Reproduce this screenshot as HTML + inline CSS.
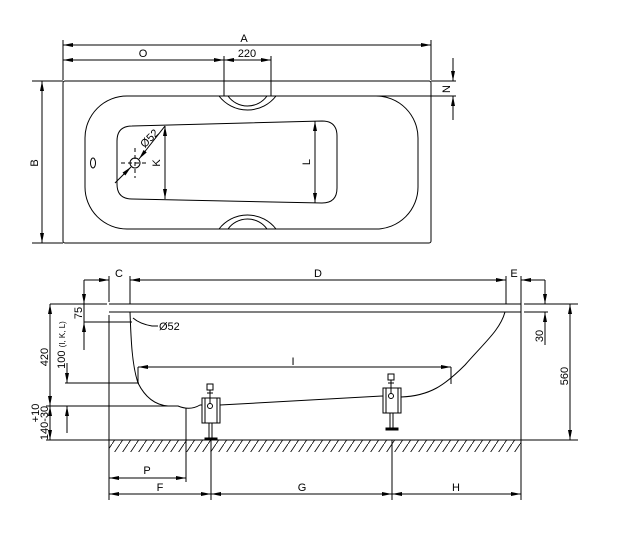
<!DOCTYPE html>
<html><head><meta charset="utf-8"><style>
html,body{margin:0;padding:0;background:#fff;width:617px;height:542px;overflow:hidden}
svg{display:block}
text{font-family:"Liberation Sans",sans-serif;font-size:11px;fill:#000}
</style></head><body>
<svg width="617" height="542" viewBox="0 0 617 542" xmlns="http://www.w3.org/2000/svg">
<defs>
<marker id="a" viewBox="0 0 10 4" refX="10" refY="2" markerWidth="10" markerHeight="4" orient="auto-start-reverse" markerUnits="userSpaceOnUse"><path d="M0,0L10,2L0,4z" fill="#000"/></marker>
<pattern id="h" width="8" height="12" patternUnits="userSpaceOnUse"><path d="M8,0L0,12" stroke="#000" stroke-width="0.8"/></pattern>
</defs>
<g stroke="#000" stroke-width="1" fill="none">
<line x1="63" y1="40" x2="63" y2="80"/>
<line x1="431" y1="40" x2="431" y2="80"/>
<line x1="63" y1="45" x2="431" y2="45" marker-start="url(#a)" marker-end="url(#a)"/>
<line x1="63" y1="60" x2="224" y2="60" marker-start="url(#a)" marker-end="url(#a)"/>
<line x1="224" y1="60" x2="271" y2="60" marker-start="url(#a)" marker-end="url(#a)"/>
<line x1="224" y1="56" x2="224" y2="96"/>
<line x1="271" y1="56" x2="271" y2="96"/>
<rect x="63" y="81" width="368" height="162" rx="2"/>
<line x1="32" y1="81" x2="63" y2="81"/>
<line x1="32" y1="243" x2="63" y2="243"/>
<line x1="42" y1="81" x2="42" y2="243" marker-start="url(#a)" marker-end="url(#a)"/>
<line x1="431" y1="81" x2="456" y2="81"/>
<line x1="271" y1="96" x2="456" y2="96"/>
<line x1="453" y1="58" x2="453" y2="81" marker-end="url(#a)"/>
<line x1="453" y1="120" x2="453" y2="96" marker-end="url(#a)"/>
<rect x="85" y="96" width="333" height="133" rx="42"/>
<path d="M219,96 A36,36 0 0 0 276,96"/>
<path d="M228,96 A24,24 0 0 0 267,96"/>
<path d="M219,229 A36,36 0 0 1 276,229"/>
<path d="M228,229 A24,24 0 0 1 267,229"/>
<path d="M132,126 L322,121 Q337,121 337,136 L337,188 Q337,203 322,203 L132,199 Q117,199 117,184 L117,141 Q117,126 132,126Z"/>
<ellipse cx="93" cy="163" rx="2.5" ry="5"/>
<circle cx="135" cy="163" r="5"/>
<line x1="121" y1="163" x2="149" y2="163" stroke-dasharray="4,3"/>
<line x1="135" y1="148" x2="135" y2="178" stroke-dasharray="4,3"/>
<line x1="115" y1="183" x2="131" y2="167" marker-end="url(#a)"/>
<line x1="165" y1="126" x2="139" y2="159" marker-end="url(#a)"/>
<line x1="165" y1="126" x2="165" y2="199" marker-start="url(#a)" marker-end="url(#a)"/>
<line x1="315" y1="121" x2="315" y2="203" marker-start="url(#a)" marker-end="url(#a)"/>
<line x1="109" y1="276" x2="109" y2="302"/>
<line x1="109" y1="315" x2="109" y2="500"/>
<line x1="521" y1="276" x2="521" y2="500"/>
<line x1="130" y1="276" x2="130" y2="304"/>
<line x1="506" y1="276" x2="506" y2="304"/>
<line x1="84" y1="280" x2="109" y2="280" marker-end="url(#a)"/>
<line x1="150" y1="280" x2="130" y2="280" marker-end="url(#a)"/>
<line x1="130" y1="280" x2="506" y2="280"/>
<line x1="486" y1="280" x2="506" y2="280" marker-end="url(#a)"/>
<line x1="545" y1="280" x2="521" y2="280" marker-end="url(#a)"/>
<path d="M109,304 H521 M109,312 H521"/>
<line x1="50" y1="304" x2="107" y2="304"/>
<line x1="524" y1="304" x2="578" y2="304"/>
<line x1="524" y1="312" x2="548" y2="312"/>
<line x1="545" y1="280" x2="545" y2="304" marker-end="url(#a)"/>
<line x1="545" y1="345" x2="545" y2="312" marker-end="url(#a)"/>
<line x1="570" y1="304" x2="570" y2="440" marker-start="url(#a)" marker-end="url(#a)"/>
<line x1="521" y1="440" x2="578" y2="440"/>
<line x1="84" y1="280" x2="84" y2="350"/>
<line x1="84" y1="282" x2="84" y2="304" marker-end="url(#a)"/>
<line x1="84" y1="340" x2="84" y2="322" marker-end="url(#a)"/>
<line x1="84" y1="322" x2="132" y2="322"/>
<line x1="50" y1="304" x2="50" y2="406" marker-start="url(#a)" marker-end="url(#a)"/>
<line x1="50" y1="406" x2="50" y2="440" marker-start="url(#a)" marker-end="url(#a)"/>
<line x1="46" y1="406" x2="170" y2="406"/>
<line x1="46" y1="440" x2="109" y2="440"/>
<line x1="65" y1="383" x2="139" y2="383"/>
<line x1="67" y1="363" x2="67" y2="383" marker-end="url(#a)"/>
<line x1="67" y1="433" x2="67" y2="406" marker-end="url(#a)"/>
<path d="M130,312 C131,340 132,365 138,383 C145,397 155,405 168,406 L178,406 Q190,411 200,405 L202,405"/>
<path d="M220,405 L383,396"/>
<path d="M401,397 C430,396 445,385 465,365 C485,342 500,330 505,312"/>
<path d="M133,318 Q140,324 152,326 L158,326"/>
<line x1="138" y1="367" x2="138" y2="383"/>
<line x1="451" y1="367" x2="451" y2="384"/>
<line x1="138" y1="367" x2="451" y2="367" marker-start="url(#a)" marker-end="url(#a)"/>
<rect x="109" y="440" width="412" height="12" fill="url(#h)" stroke="none"/>
<line x1="109" y1="440" x2="521" y2="440"/>
<g id="leg">
<rect x="202" y="398" width="18" height="25"/>
<line x1="205" y1="398" x2="205" y2="423"/>
<line x1="217" y1="398" x2="217" y2="423"/>
<rect x="207" y="384" width="6" height="6"/>
<line x1="210" y1="390" x2="210" y2="404"/>
<line x1="207" y1="393" x2="213" y2="393"/>
<circle cx="210" cy="406" r="2.5"/>
<line x1="209" y1="423" x2="209" y2="438"/>
<line x1="212" y1="423" x2="212" y2="438"/>
<rect x="205" y="438" width="12" height="2" fill="#000"/>
</g>
<use href="#leg" x="181" y="-10"/>
<line x1="211" y1="440" x2="211" y2="500"/>
<line x1="392" y1="440" x2="392" y2="500"/>
<line x1="186" y1="408" x2="186" y2="482"/>
<line x1="109" y1="478" x2="186" y2="478" marker-start="url(#a)" marker-end="url(#a)"/>
<line x1="109" y1="494" x2="211" y2="494" marker-start="url(#a)" marker-end="url(#a)"/>
<line x1="211" y1="494" x2="392" y2="494" marker-start="url(#a)" marker-end="url(#a)"/>
<line x1="392" y1="494" x2="521" y2="494" marker-start="url(#a)" marker-end="url(#a)"/>
</g>
<g>
<text x="244" y="42" text-anchor="middle">A</text>
<text x="143" y="57" text-anchor="middle">O</text>
<text x="247" y="57" text-anchor="middle">220</text>
<text x="40" y="163" text-anchor="middle" transform="rotate(-90 40 163)" dy="-2">B</text>
<text x="452" y="89" text-anchor="middle" transform="rotate(-90 452 89)" dy="-2">N</text>
<text x="162" y="163" text-anchor="middle" transform="rotate(-90 162 163)" dy="-2">K</text>
<text x="312" y="162" text-anchor="middle" transform="rotate(-90 312 162)" dy="-2">L</text>
<text x="152" y="141" text-anchor="middle" transform="rotate(-45 152 141)" font-size="10">Ø52</text>
<text x="119" y="277" text-anchor="middle">C</text>
<text x="318" y="277" text-anchor="middle">D</text>
<text x="514" y="277" text-anchor="middle">E</text>
<text x="159" y="330">Ø52</text>
<text x="293" y="365" text-anchor="middle">I</text>
<text x="147" y="474" text-anchor="middle">P</text>
<text x="160" y="491" text-anchor="middle">F</text>
<text x="302" y="491" text-anchor="middle">G</text>
<text x="456" y="491" text-anchor="middle">H</text>
<text x="82" y="313" text-anchor="middle" transform="rotate(-90 82 313)">75</text>
<text x="48" y="357" text-anchor="middle" transform="rotate(-90 48 357)">420</text>
<text x="65" y="345" text-anchor="middle" transform="rotate(-90 65 345)">100 <tspan font-size="8">(I, K, L)</tspan></text>
<text x="48" y="423" text-anchor="middle" transform="rotate(-90 48 423)">140-30</text>
<text x="39" y="413" text-anchor="middle" transform="rotate(-90 39 413)" font-size="9">+10</text>
<text x="543" y="336" text-anchor="middle" transform="rotate(-90 543 336)">30</text>
<text x="568" y="376" text-anchor="middle" transform="rotate(-90 568 376)">560</text>
</g>
</svg>
</body></html>
